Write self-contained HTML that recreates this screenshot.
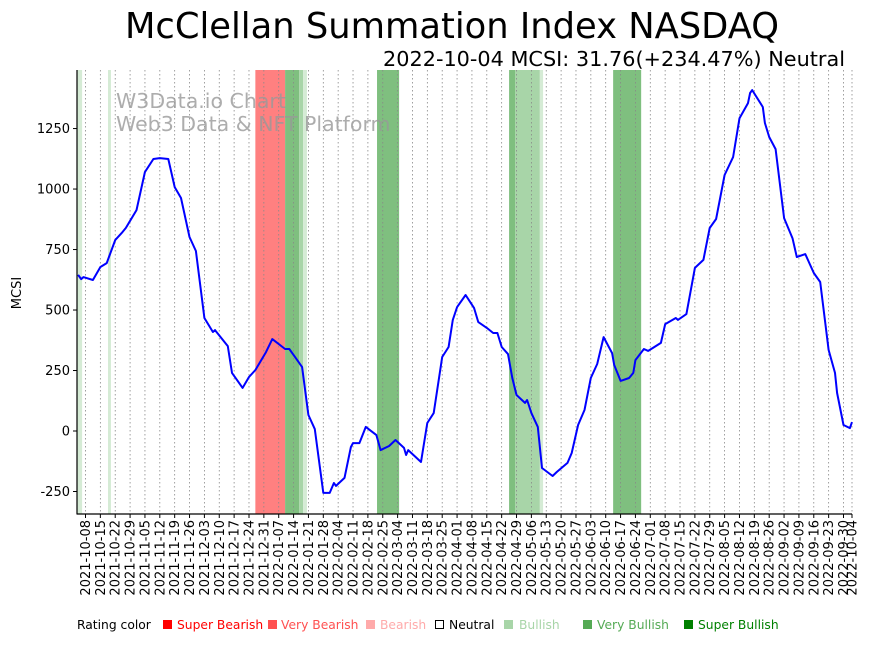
<!DOCTYPE html>
<html><head><meta charset="utf-8"><style>
body{margin:0;background:#fff;}
svg text{font-family:"DejaVu Sans","Liberation Sans",sans-serif;}
</style></head><body>
<svg id="chart" width="871" height="641" xmlns="http://www.w3.org/2000/svg">
<text x="452" y="38" font-size="35.3" text-anchor="middle">McClellan Summation Index NASDAQ</text>
<text x="845" y="66" font-size="20.8" text-anchor="end">2022-10-04 MCSI: 31.76(+234.47%) Neutral</text>
<g id="bands"></g>
<g id="grid"></g>
<text x="116" y="108" font-size="20.5" fill="#999" fill-opacity="0.8">W3Data.io Chart</text>
<text x="116" y="131" font-size="20.5" fill="#999" fill-opacity="0.8">Web3 Data &amp; NFT Platform</text>
<g id="series"></g>
<g id="axes"></g>
<text transform="translate(21,293) rotate(-90)" font-size="13" text-anchor="middle">MCSI</text>
<g id="legend" font-size="12.3">
<text x="77" y="629">Rating color</text>
<rect x="163" y="620" width="9" height="9" fill="#ff0000"/><text x="177" y="629" fill="#ff0000">Super Bearish</text>
<rect x="268" y="620" width="9" height="9" fill="#ff5050"/><text x="281" y="629" fill="#ff5050">Very Bearish</text>
<rect x="366" y="620" width="9" height="9" fill="#ffaaaa"/><text x="380" y="629" fill="#ffaaaa">Bearish</text>
<rect x="435.5" y="620.5" width="8" height="8" fill="none" stroke="#000"/><text x="449" y="629">Neutral</text>
<rect x="504" y="620" width="9" height="9" fill="#a8d5a8"/><text x="519" y="629" fill="#a8d5a8">Bullish</text>
<rect x="583" y="620" width="9" height="9" fill="#55aa55"/><text x="597" y="629" fill="#55aa55">Very Bullish</text>
<rect x="684" y="620" width="9" height="9" fill="#008000"/><text x="698" y="629" fill="#008000">Super Bullish</text>
</g>
</svg>
<script>
const days=[0.5,2,3,7.5,11,14,18,21,23,28,32,36,39,43,46,49,53,56,60,64,65,71,73,78,81,84,89,92,98,100,103,106,109,112,116,119,121,122,126,129,130,133,136,141,143,147,150,154,155,156,162,165,168,172,175,177,179,183,187,189,193,196,198,200,203,205,207,211,212,214,217,219,224,226,231,233,236,239,242,245,248,252,253,256,260,262,263,267,269,275,277,282,283,287,291,295,298,301,305,309,312,316,317,318,323,324,326,329,333,337,339,343,347,350,354,357,358,361,364,365];
const values=[645,628,636,624,678,694,789,818,839,913,1070,1124,1128,1124,1008,963,802,744,467,409,417,351,240,178,223,252,326,380,339,339,302,264,66,8,-256,-256,-215,-227,-194,-66,-50,-50,17,-17,-79,-62,-37,-70,-99,-79,-128,33,74,306,347,459,512,562,508,450,426,405,405,347,318,219,149,116,128,74,17,-153,-186,-169,-132,-91,25,87,219,277,388,322,273,207,219,240,293,339,331,364,442,467,459,483,674,707,839,876,1058,1132,1293,1355,1397,1409,1339,1273,1215,1165,880,797,719,731,653,616,335,240,157,25,12,37];
const bandStart=[0,14.6,84,98,104.6,106.5,141.3,203.5,206.3,218,252.5];
const bandEnd=[2.4,16,98,104.6,106.5,108.3,151.7,206.3,218,219.5,265.7];
const bandType=["light","light","veryBearish","veryBullish","bullish","light","veryBullish","veryBullish","bullish","light","veryBullish"];
const yTicks=[-250,0,250,500,750,1000,1250];

const NS="http://www.w3.org/2000/svg";
const X0=77,X1=852,Y0=514,Y1=70,DMAX=365,VMIN=-343,VMAX=1492;
const xs=d=>X0+(d/DMAX)*(X1-X0);
const ys=v=>Y0-(v-VMIN)/(VMAX-VMIN)*(Y0-Y1);
const bandColor={light:"#d5ebd5",bullish:"#a8d5a8",veryBullish:"#7fbf7f",veryBearish:"#ff8080"};
function mk(tag,attrs,parent){const e=document.createElementNS(NS,tag);for(const k in attrs)e.setAttribute(k,attrs[k]);parent.appendChild(e);return e;}
const gB=document.getElementById('bands');
bandStart.forEach((s,i)=>{
  const r=mk('rect',{x:xs(s),y:Y1,width:xs(bandEnd[i])-xs(s),height:Y0-Y1,fill:bandColor[bandType[i]]},gB);
  
  
});
const gG=document.getElementById('grid'),gA=document.getElementById('axes');
const base=new Date(Date.UTC(2021,9,4));
function fmt(d){const t=new Date(base.getTime()+d*86400000);return t.toISOString().slice(0,10);}
const xTickDays=[];for(let d=4;d<=361;d+=7)xTickDays.push(d);xTickDays.push(365);
xTickDays.forEach(d=>{
  const x=xs(d);
  mk('line',{x1:x,x2:x,y1:Y1,y2:Y0,stroke:"#888","stroke-width":0.8,"stroke-dasharray":"1.5,2.5"},gG);
  mk('line',{x1:x,x2:x,y1:Y0,y2:Y0+4,stroke:"#000","stroke-width":1},gA);
  const t=mk('text',{transform:`translate(${x+4.5},${Y0+6}) rotate(-90)`,"font-size":13,"text-anchor":"end"},gA);
  t.textContent=fmt(d);
  
  
});
yTicks.forEach(v=>{
  const y=ys(v);
  mk('line',{x1:X0-4,x2:X0,y1:y,y2:y,stroke:"#000"},gA);
  const t=mk('text',{x:X0-7,y:y+4.5,"font-size":13,"text-anchor":"end"},gA);
  t.textContent=v;
  
  
});
const sp1=mk('line',{x1:X0,x2:X0,y1:Y1,y2:Y0+0.5,stroke:"#000","stroke-width":1.2},gA);


const sp2=mk('line',{x1:X0,x2:X1,y1:Y0,y2:Y0,stroke:"#000","stroke-width":1.2},gA);


const pts=days.map((d,i)=>xs(d).toFixed(1)+","+ys(values[i]).toFixed(1)).join(" ");
const pl=mk('polyline',{points:pts,fill:"none",stroke:"#0000ff","stroke-width":2,"stroke-linejoin":"round"},document.getElementById('series'));


</script>
</body></html>
